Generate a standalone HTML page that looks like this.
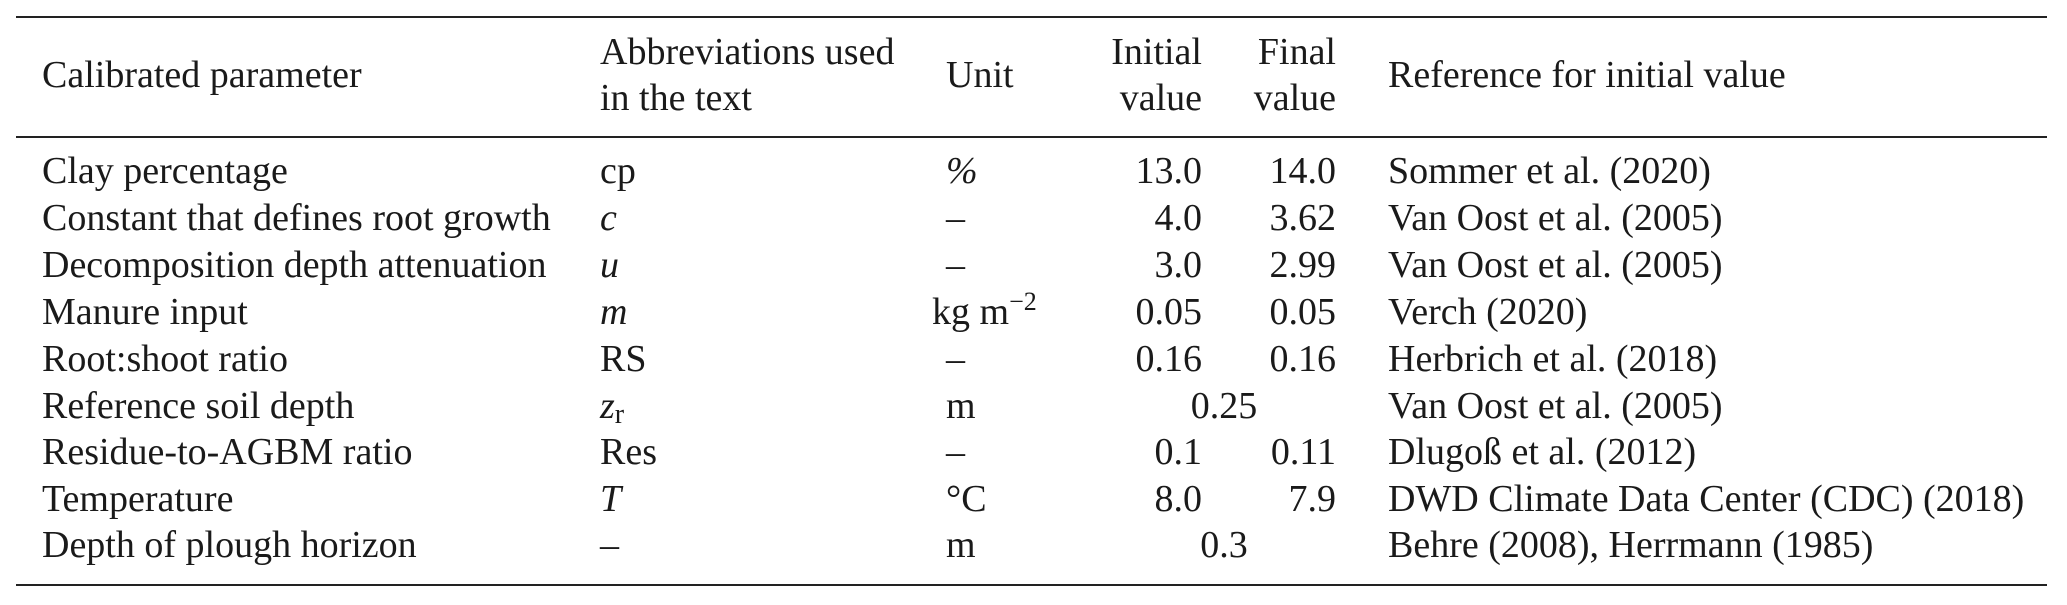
<!DOCTYPE html>
<html><head><meta charset="utf-8"><style>
html,body{margin:0;padding:0;background:#fff;}
svg{display:block;}
text{font-family:"Liberation Serif",serif;font-size:38px;fill:#1a1a1a;}
.i{font-style:italic;}
</style></head><body>
<svg width="2067" height="605" viewBox="0 0 2067 605" xmlns="http://www.w3.org/2000/svg">
<rect x="16" y="16" width="2031" height="2" fill="#222"/>
<rect x="16" y="136" width="2031" height="2" fill="#222"/>
<rect x="16" y="584" width="2031" height="2" fill="#222"/>

<text x="42" y="87">Calibrated parameter</text>
<text x="600" y="64">Abbreviations used</text>
<text x="600" y="110">in the text</text>
<text x="946" y="87">Unit</text>
<text x="1202" y="64" text-anchor="end">Initial</text>
<text x="1202" y="110" text-anchor="end">value</text>
<text x="1336" y="64" text-anchor="end">Final</text>
<text x="1336" y="110" text-anchor="end">value</text>
<text x="1388" y="87">Reference for initial value</text>

<g>
<text x="42" y="183">Clay percentage</text>
<text x="600" y="183">cp</text>
<text x="946" y="183" class="i">%</text>
<text x="1202" y="183" text-anchor="end">13.0</text>
<text x="1336" y="183" text-anchor="end">14.0</text>
<text x="1388" y="183">Sommer et al. (2020)</text>

<text x="42" y="230">Constant that defines root growth</text>
<text x="600" y="230" class="i">c</text>
<text x="946" y="230">–</text>
<text x="1202" y="230" text-anchor="end">4.0</text>
<text x="1336" y="230" text-anchor="end">3.62</text>
<text x="1388" y="230">Van Oost et al. (2005)</text>

<text x="42" y="277">Decomposition depth attenuation</text>
<text x="600" y="277" class="i">u</text>
<text x="946" y="277">–</text>
<text x="1202" y="277" text-anchor="end">3.0</text>
<text x="1336" y="277" text-anchor="end">2.99</text>
<text x="1388" y="277">Van Oost et al. (2005)</text>

<text x="42" y="324">Manure input</text>
<text x="600" y="324" class="i">m</text>
<text x="932" y="324">kg m<tspan font-size="26" dy="-14">−2</tspan></text>
<text x="1202" y="324" text-anchor="end">0.05</text>
<text x="1336" y="324" text-anchor="end">0.05</text>
<text x="1388" y="324">Verch (2020)</text>

<text x="42" y="371">Root:shoot ratio</text>
<text x="600" y="371">RS</text>
<text x="946" y="371">–</text>
<text x="1202" y="371" text-anchor="end">0.16</text>
<text x="1336" y="371" text-anchor="end">0.16</text>
<text x="1388" y="371">Herbrich et al. (2018)</text>

<text x="42" y="418">Reference soil depth</text>
<text x="600" y="418"><tspan class="i">z</tspan><tspan font-size="28" dy="5">r</tspan></text>
<text x="946" y="418">m</text>
<text x="1224" y="418" text-anchor="middle">0.25</text>
<text x="1388" y="418">Van Oost et al. (2005)</text>

<text x="42" y="464">Residue-to-AGBM ratio</text>
<text x="600" y="464">Res</text>
<text x="946" y="464">–</text>
<text x="1202" y="464" text-anchor="end">0.1</text>
<text x="1336" y="464" text-anchor="end">0.11</text>
<text x="1388" y="464">Dlugoß et al. (2012)</text>

<text x="42" y="511">Temperature</text>
<text x="600" y="511" class="i">T</text>
<text x="946" y="511">°C</text>
<text x="1202" y="511" text-anchor="end">8.0</text>
<text x="1336" y="511" text-anchor="end">7.9</text>
<text x="1388" y="511">DWD Climate Data Center (CDC) (2018)</text>

<text x="42" y="557">Depth of plough horizon</text>
<text x="600" y="557">–</text>
<text x="946" y="557">m</text>
<text x="1224" y="557" text-anchor="middle">0.3</text>
<text x="1388" y="557">Behre (2008), Herrmann (1985)</text>
</g>
</svg>
</body></html>
